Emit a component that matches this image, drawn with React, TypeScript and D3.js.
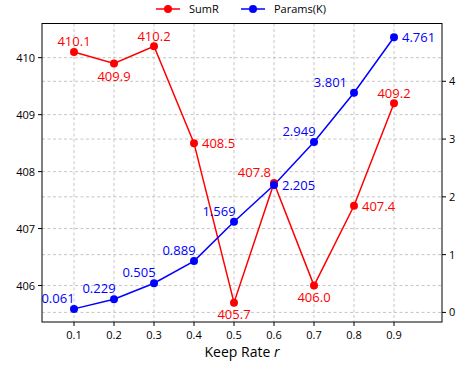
import React from "react";
import * as d3 from "d3";

const keepRates = [0.1, 0.2, 0.3, 0.4, 0.5, 0.6, 0.7, 0.8, 0.9];
const sumR = [410.1, 409.9, 410.2, 408.5, 405.7, 407.8, 406.0, 407.4, 409.2];
const params = [0.061, 0.229, 0.505, 0.889, 1.569, 2.205, 2.949, 3.801, 4.761];
const sumRLabels = ["410.1", "409.9", "410.2", "408.5", "405.7", "407.8", "406.0", "407.4", "409.2"];
const paramsLabels = ["0.061", "0.229", "0.505", "0.889", "1.569", "2.205", "2.949", "3.801", "4.761"];
const leftTicks = [406, 407, 408, 409, 410];
const rightTicks = [0, 1, 2, 3, 4];
const xTickLabels = ["0.1", "0.2", "0.3", "0.4", "0.5", "0.6", "0.7", "0.8", "0.9"];

// label placement: [dx, dy, anchor]
const sumROffsets: [number, number, string][] = [
  [0, -5.5, "middle"],
  [0, 18, "middle"],
  [0, -5.5, "middle"],
  [8, 5, "start"],
  [0, 16, "middle"],
  [-3, -6.5, "end"],
  [0, 16, "middle"],
  [8, 5, "start"],
  [0, -5.5, "middle"],
];
const paramsOffsets: [number, number, string][] = [
  [-16, -6, "middle"],
  [-15, -6, "middle"],
  [-15, -6, "middle"],
  [-15, -6, "middle"],
  [-15, -6, "middle"],
  [8, 5, "start"],
  [-15, -6, "middle"],
  [-7, -5.5, "end"],
  [8, 5, "start"],
];

const W = 458, H = 367;
const L = 42, R = 442, T = 23.5, B = 322;
const FONT = "'Open Sans', 'DejaVu Sans', sans-serif";

export default function App() {
  const x = d3.scaleLinear().domain([0.02, 1.02]).range([L, R]);
  const yL = d3.scaleLinear().domain([405.36, 410.6]).range([B, T]);
  const yR = d3.scaleLinear().domain([-0.166, 5.0]).range([B, T]);
  const lineL = d3.line<number>().x((_, i) => x(keepRates[i])).y((d) => yL(d));
  const lineR = d3.line<number>().x((_, i) => x(keepRates[i])).y((d) => yR(d));
  const grid = "#b8b8b8";
  return (
    <svg width={W} height={H} style={{ position: "absolute", left: 0, top: 0 }} fontFamily={FONT}>
      <rect width={W} height={H} fill="white" />
      {/* grid */}
      {keepRates.map((k, i) => (
        <line key={"gx" + i} x1={x(k)} x2={x(k)} y1={T} y2={B} stroke={grid} strokeWidth={0.8} strokeDasharray="3,2.5" />
      ))}
      {leftTicks.map((t) => (
        <line key={"gl" + t} x1={L} x2={R} y1={yL(t)} y2={yL(t)} stroke={grid} strokeWidth={0.8} strokeDasharray="3,2.5" />
      ))}
      {rightTicks.map((t) => (
        <line key={"gr" + t} x1={L} x2={R} y1={yR(t)} y2={yR(t)} stroke={grid} strokeWidth={0.8} strokeDasharray="3,2.5" />
      ))}
      {/* lines */}
      <path d={lineL(sumR) || ""} fill="none" stroke="#ff0000" strokeWidth={1.5} />
      <path d={lineR(params) || ""} fill="none" stroke="#0000ff" strokeWidth={1.5} />
      {sumR.map((v, i) => (
        <circle key={"sp" + i} cx={x(keepRates[i])} cy={yL(v)} r={4} fill="#ff0000" />
      ))}
      {params.map((v, i) => (
        <circle key={"pp" + i} cx={x(keepRates[i])} cy={yR(v)} r={4} fill="#0000ff" />
      ))}
      {/* annotations */}
      {sumR.map((v, i) => (
        <text key={"sl" + i} x={x(keepRates[i]) + sumROffsets[i][0]} y={yL(v) + sumROffsets[i][1]} textAnchor={sumROffsets[i][2] as any} fontSize={13} fill="#ff0000">
          {sumRLabels[i]}
        </text>
      ))}
      {params.map((v, i) => (
        <text key={"pl" + i} x={x(keepRates[i]) + paramsOffsets[i][0]} y={yR(v) + paramsOffsets[i][1]} textAnchor={paramsOffsets[i][2] as any} fontSize={13} fill="#0000ff">
          {paramsLabels[i]}
        </text>
      ))}
      {/* frame */}
      <rect x={L} y={T} width={R - L} height={B - T} fill="none" stroke="black" strokeWidth={1} />
      {/* x ticks */}
      {keepRates.map((k, i) => (
        <g key={"xt" + i}>
          <line x1={x(k)} x2={x(k)} y1={B} y2={B + 4} stroke="black" />
          <text x={x(k)} y={B + 17} textAnchor="middle" fontSize={11} fill="black">{xTickLabels[i]}</text>
        </g>
      ))}
      {leftTicks.map((t) => (
        <g key={"lt" + t}>
          <line x1={L - 4} x2={L} y1={yL(t)} y2={yL(t)} stroke="black" />
          <text x={L - 7} y={yL(t) + 4} textAnchor="end" fontSize={11} fill="black">{t}</text>
        </g>
      ))}
      {rightTicks.map((t) => (
        <g key={"rt" + t}>
          <line x1={R} x2={R + 4} y1={yR(t)} y2={yR(t)} stroke="black" />
          <text x={R + 7} y={yR(t) + 4} textAnchor="start" fontSize={11} fill="black">{t}</text>
        </g>
      ))}
      <text x={(L + R) / 2} y={357} textAnchor="middle" fontSize={14} fill="black">
        Keep Rate <tspan fontStyle="italic">r</tspan>
      </text>
      {/* legend */}
      <line x1={156} x2={180} y1={9} y2={9} stroke="#ff0000" strokeWidth={1.5} />
      <circle cx={168} cy={9} r={4} fill="#ff0000" />
      <text x={189} y={13} fontSize={11} fill="black">SumR</text>
      <line x1={241} x2={265} y1={9} y2={9} stroke="#0000ff" strokeWidth={1.5} />
      <circle cx={253} cy={9} r={4} fill="#0000ff" />
      <text x={274} y={13} fontSize={11} fill="black">Params(K)</text>
    </svg>
  );
}
